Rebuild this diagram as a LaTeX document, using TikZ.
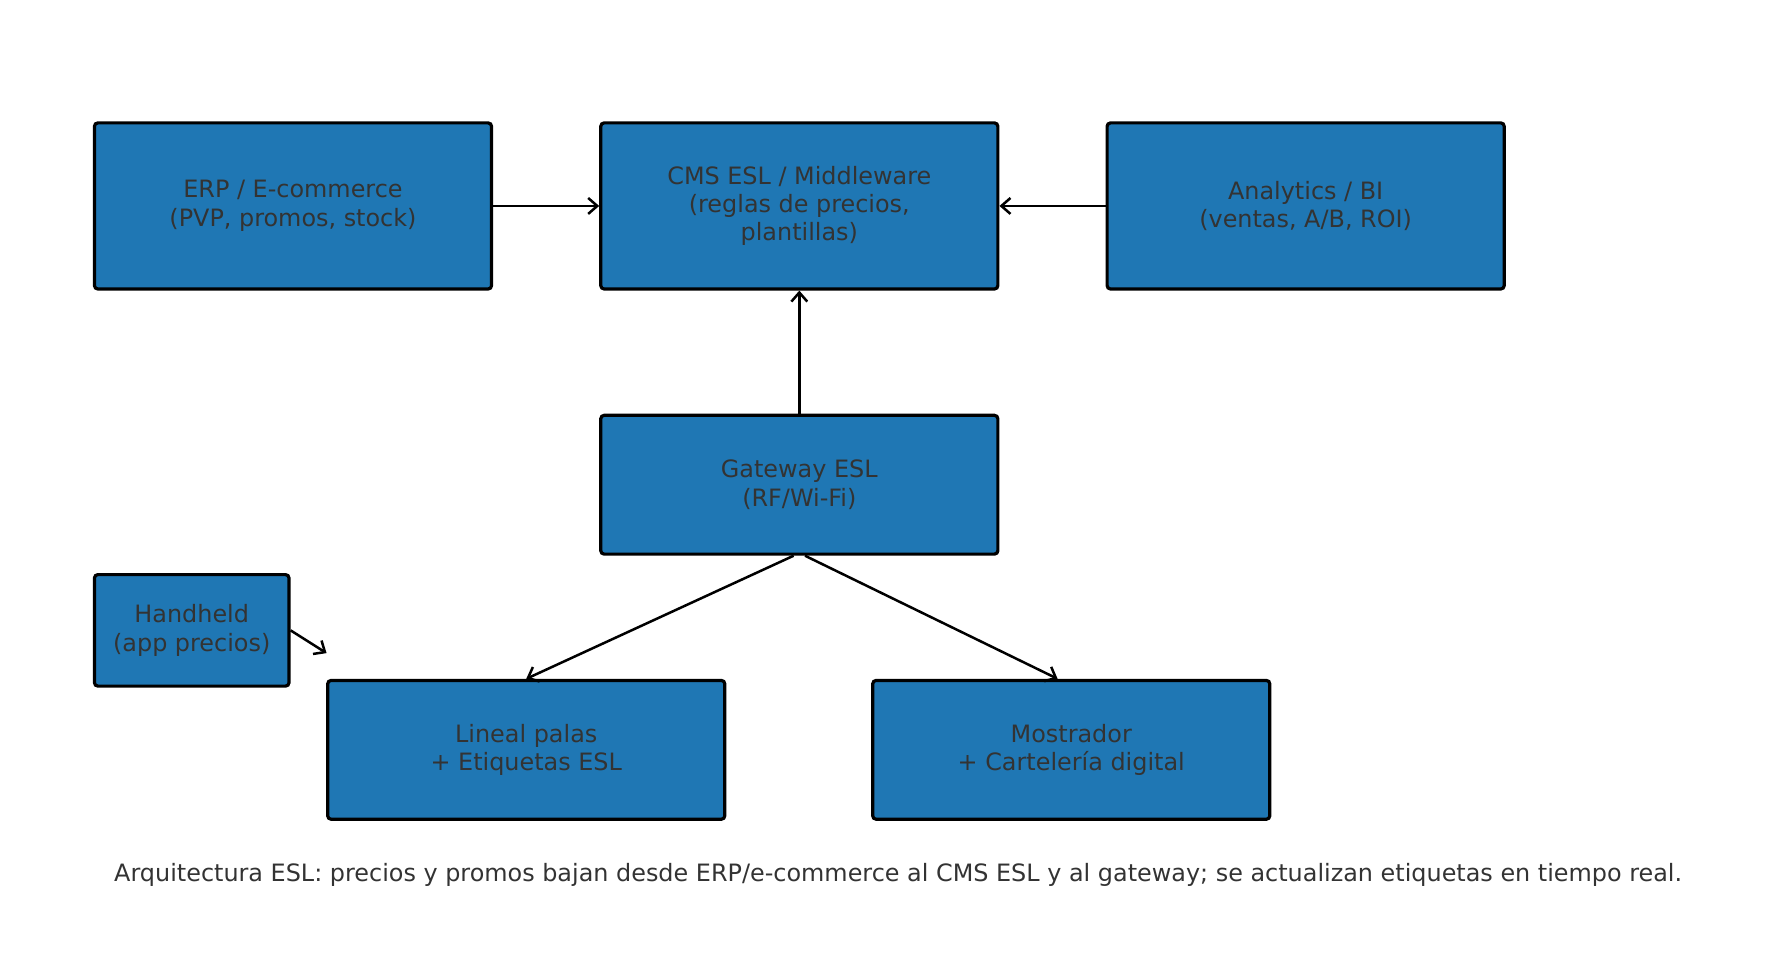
\documentclass[tikz,border=0pt]{standalone}
\usepackage{fontspec}
\setmainfont{DejaVu Sans}
\begin{document}
\begin{tikzpicture}[x=0.5pt,y=-0.5pt,
  box/.style={draw=black,line width=1.4pt,fill={rgb,255:red,31;green,119;blue,180},rounded corners=1.5pt,text={rgb,255:red,51;green,51;blue,51},align=center,font=\fontsize{10.5}{12.5}\selectfont,inner sep=0pt},
  arr/.style={->,line width=1.1pt,>={Straight Barb[length=4pt,width=7pt]}}]
\usetikzlibrary{arrows.meta}
\useasboundingbox (0,0) rectangle (1560,847);
\node[box,minimum width=174.5pt,minimum height=73pt] (erp) at (257.5,181) {ERP / E-commerce\\(PVP, promos, stock)};
\node[box,minimum width=174.5pt,minimum height=73pt] (cms) at (702.5,181) {CMS ESL / Middleware\\(reglas de precios,\\plantillas)};
\node[box,minimum width=174.5pt,minimum height=73pt] (ana) at (1147.5,181) {Analytics / BI\\(ventas, A/B, ROI)};
\node[box,minimum width=174.5pt,minimum height=61pt] (gw) at (702.5,426) {Gateway ESL\\(RF/Wi-Fi)};
\node[box,minimum width=85.5pt,minimum height=49pt] (hh) at (168.5,554) {Handheld\\(app precios)};
\node[box,minimum width=174.5pt,minimum height=61pt] (lin) at (462.5,659) {Lineal palas\\+ Etiquetas ESL};
\node[box,minimum width=174.5pt,minimum height=61pt] (mos) at (941.5,659) {Mostrador\\+ Cartelería digital};
\coordinate (hend) at (287,574);
\node[anchor=west,text={rgb,255:red,51;green,51;blue,51},font=\fontsize{10.5}{12.5}\selectfont,inner sep=0pt] (cap) at (100,769) {Arquitectura ESL: precios y promos bajan desde ERP/e-commerce al CMS ESL y al gateway; se actualizan etiquetas en tiempo real.};
\draw[arr] (erp.east) -- (cms.west);
\draw[arr] (ana.west) -- (cms.east);
\draw[arr] (gw.north) -- (cms.south);
\draw[arr] ([xshift=-2.5pt]gw.south) -- (lin.north);
\draw[arr] ([xshift=2.5pt]gw.south) -- ([xshift=-6pt]mos.north);
\draw[arr] (hh.east) -- (hend);
\end{tikzpicture}
\end{document}
